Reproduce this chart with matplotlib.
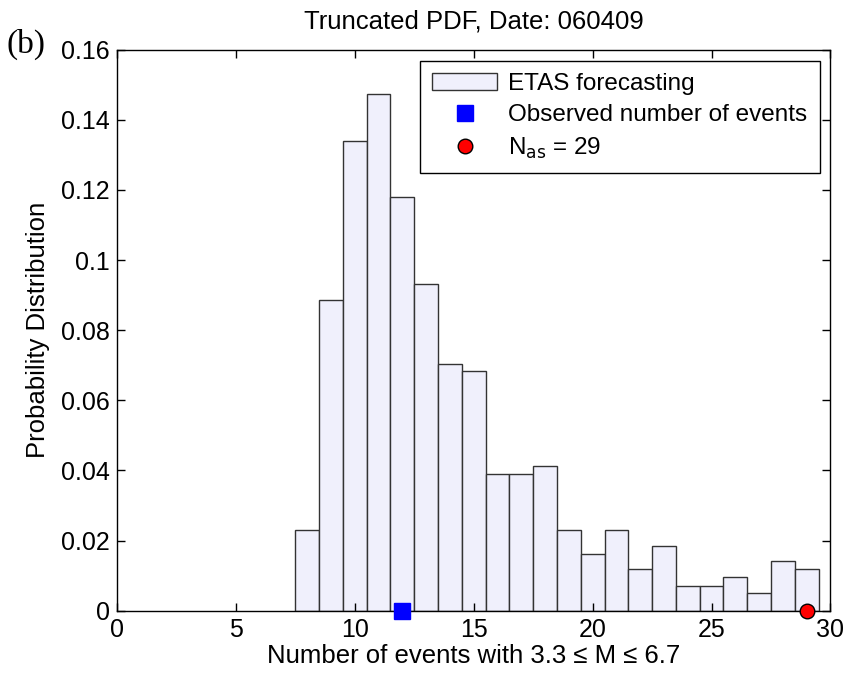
import matplotlib
matplotlib.use("Agg")
import matplotlib.pyplot as plt
from matplotlib.patches import Patch
from matplotlib.lines import Line2D

plt.rcParams['font.family'] = ['Liberation Sans', 'DejaVu Sans']

# histogram of ETAS forecast (bin centers and probabilities)
counts = list(range(8, 30))
prob = [0.0230, 0.0885, 0.1339, 0.1474, 0.1179, 0.0932, 0.0703, 0.0683,
        0.0389, 0.0389, 0.0412, 0.0230, 0.0161, 0.0230, 0.0118, 0.0184,
        0.0071, 0.0071, 0.0095, 0.0049, 0.0142, 0.0118]

observed = 12
n_as = 29

fig = plt.figure(figsize=(8.44, 6.75), dpi=100)
ax = fig.add_axes([0.1386, 0.0953, 0.8454, 0.831])

ax.bar(counts, prob, width=1.0, color="#f0f0fc", edgecolor="#333333", linewidth=1.0)
ax.plot(observed, 0, "s", color="blue", markersize=12, clip_on=False, zorder=5)
ax.plot(n_as, 0, "o", markerfacecolor="red", markeredgecolor="black",
        markersize=10.5, clip_on=False, zorder=5)

ax.set_xlim(0, 30)
ax.set_ylim(0, 0.16)
ax.set_xticks([0, 5, 10, 15, 20, 25, 30])
ax.set_yticks([0, 0.02, 0.04, 0.06, 0.08, 0.1, 0.12, 0.14, 0.16])
ax.set_yticklabels(["0", "0.02", "0.04", "0.06", "0.08", "0.1", "0.12", "0.14", "0.16"])
ax.tick_params(direction="in", top=True, right=True, labelsize=18, length=6, width=1, pad=5)
for s in ax.spines.values():
    s.set_linewidth(1.0)

ax.set_title("Truncated PDF, Date: 060409", fontsize=18.5, pad=15)
ax.set_xlabel("Number of events with 3.3 \u2264 M \u2264 6.7", fontsize=18.5, labelpad=2)
ax.set_ylabel("Probability Distribution", fontsize=18.5, labelpad=8)

fig.text(0.008, 0.922, "(b)", fontsize=24, family="Liberation Serif")

handles = [
    Patch(facecolor="#f0f0fc", edgecolor="#333333", linewidth=1.0),
    Line2D([], [], marker="s", color="blue", linestyle="none", markersize=12),
    Line2D([], [], marker="o", markerfacecolor="red", markeredgecolor="black",
           linestyle="none", markersize=10.5),
]
labels = ["ETAS forecasting", "Observed number of events", "N$_{\\rm as}$ = 29"]
leg = ax.legend(handles, labels, loc="upper right", fontsize=17.5, fancybox=False,
                edgecolor="black", framealpha=1, borderpad=0.5, labelspacing=0.38,
                handlelength=2.7, handletextpad=0.45, borderaxespad=0.45)
leg.get_frame().set_linewidth(1.0)

fig.savefig("out.png", dpi=100)
